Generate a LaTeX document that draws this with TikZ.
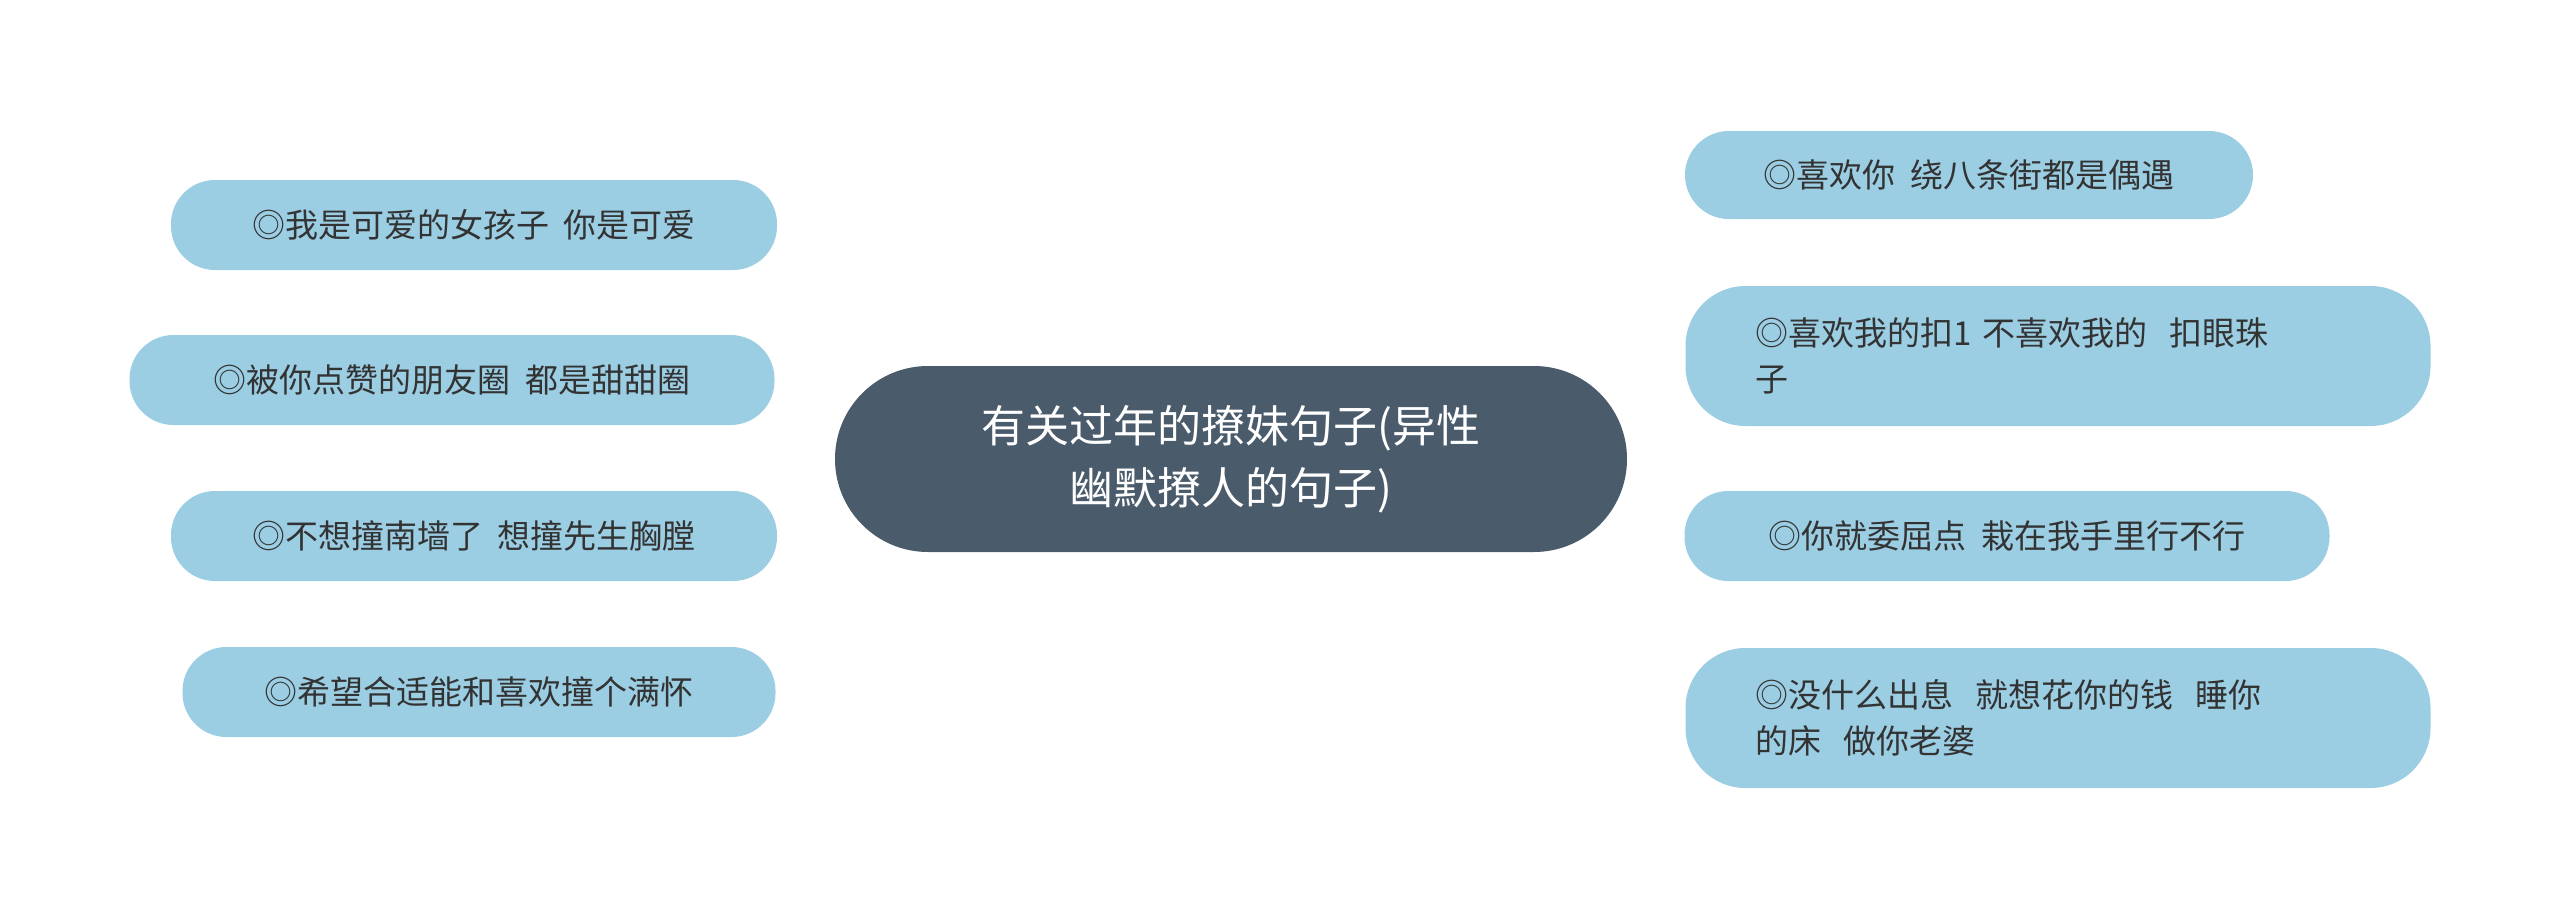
\documentclass[tikz,border=0pt]{standalone}
\usepackage{fontspec}
\setmainfont{Noto Sans CJK SC}
\usetikzlibrary{backgrounds}
\definecolor{dark}{HTML}{4A5B6B}
\definecolor{leaf}{HTML}{9BCDE3}
\definecolor{txt}{HTML}{333333}
\tikzset{
  leafbox/.style={fill=leaf, rounded corners=44pt, minimum height=90pt, font=\fontsize{33}{46}\selectfont, text=txt, inner sep=0pt},
  tallbox/.style={fill=leaf, rounded corners=60pt, minimum height=140pt, font=\fontsize{33}{46}\selectfont, text=txt, inner sep=0pt, align=left},
  link/.style={draw=dark, line width=3pt}
}
\begin{document}
\begin{tikzpicture}[x=1pt,y=-1pt]
\useasboundingbox[fill=white] (0,0) rectangle (2560,919);
\node[fill=dark, rounded corners=93pt, minimum width=792pt, minimum height=186pt, text=white, align=center, font=\fontsize{44}{62}\selectfont] (c) at (1231,459) {有关过年的撩妹句子(异性\\幽默撩人的句子)};
\node[leafbox, minimum width=606pt] (l1) at (474,225) {◎我是可爱的女孩子\ \ 你是可爱};
\node[leafbox, minimum width=645pt] (l2) at (452,380) {◎被你点赞的朋友圈\ \ 都是甜甜圈};
\node[leafbox, minimum width=606pt] (l3) at (474,536) {◎不想撞南墙了\ \ 想撞先生胸膛};
\node[leafbox, minimum width=593pt] (l4) at (479,692) {◎希望合适能和喜欢撞个满怀};
\node[leafbox, minimum width=568pt, minimum height=88pt] (r1) at (1969,175) {◎喜欢你\ \ 绕八条街都是偶遇};
\node[tallbox, minimum width=745pt, text width=605pt] (r2) at (2058,356) {◎喜欢我的扣1 不喜欢我的\ \ 扣眼珠\\子};
\node[leafbox, minimum width=645pt] (r3) at (2007,536) {◎你就委屈点\ \ 栽在我手里行不行};
\node[tallbox, minimum width=745pt, text width=605pt] (r4) at (2058,718) {◎没什么出息\ \ 就想花你的钱\ \ 睡你\\的床\ \ 做你老婆};
\begin{pgfonlayer}{background}
\draw[link] ([xshift=-23pt]c.north) .. controls +(-40,-110) and +(250,0) .. (l1.east);
\draw[link] ([xshift=-300pt,yshift=-75pt]c.center) -- (l2.east);
\draw[link] ([xshift=-300pt,yshift=77pt]c.center) -- (l3.east);
\draw[link] ([xshift=-23pt]c.south) .. controls +(-40,110) and +(250,0) .. (l4.east);
\draw[link] ([xshift=18pt]c.north) .. controls +(40,-110) and +(-250,0) .. (r1.west);
\draw[link] ([xshift=210pt,yshift=-95pt]c.center) -- (r2.west);
\draw[link] ([xshift=350pt,yshift=75pt]c.center) -- (r3.west);
\draw[link] ([xshift=18pt]c.south) .. controls +(40,110) and +(-250,0) .. (r4.west);
\end{pgfonlayer}
\end{tikzpicture}
\end{document}
